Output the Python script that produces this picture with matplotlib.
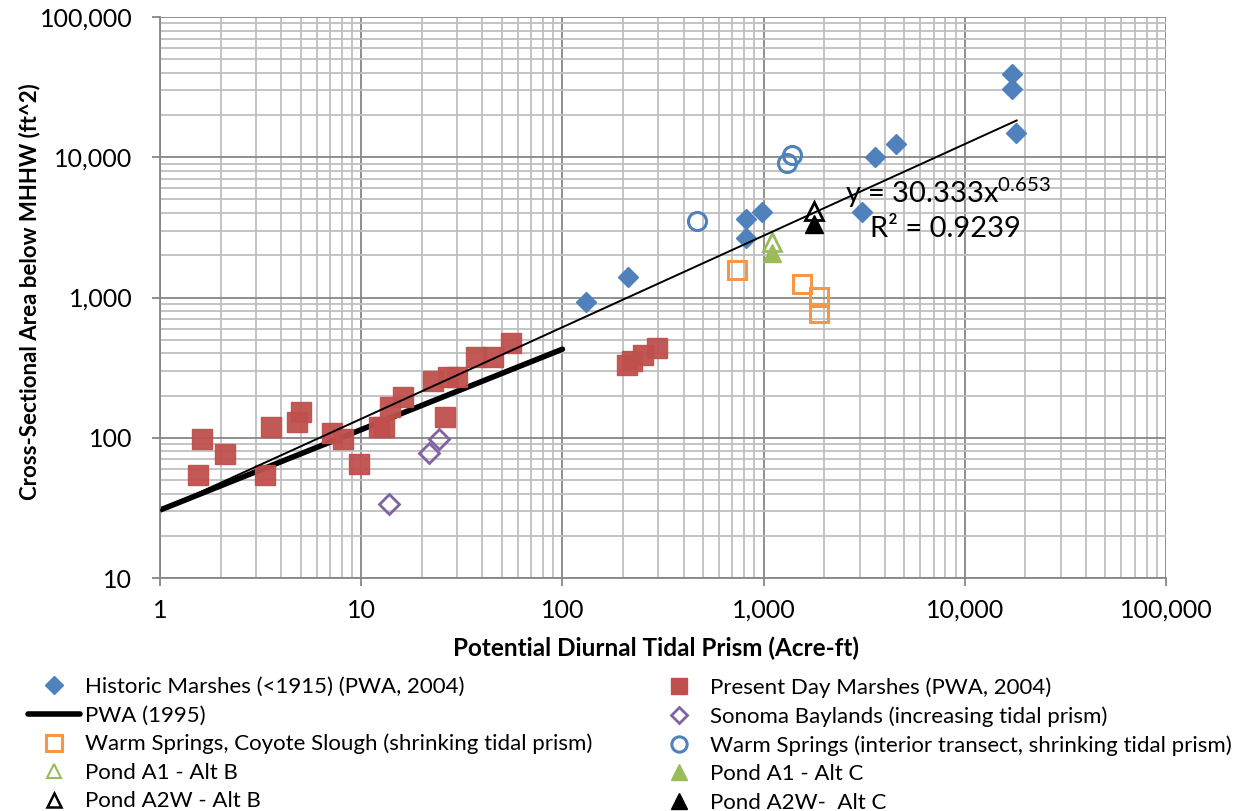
import matplotlib
matplotlib.use("Agg")
import matplotlib.pyplot as plt
import numpy as np
from matplotlib.ticker import LogLocator, FuncFormatter, NullFormatter
from matplotlib.lines import Line2D

# ---------------- data ----------------
historic_x = [131, 212, 813, 813, 979, 3096, 3578, 4567, 17170, 17170, 18030]
historic_y = [929, 1400, 3630, 2667, 4075, 4045, 10090, 12370, 39000, 30700, 14830]

present_x = [1.54, 1.62, 2.10, 3.32, 3.56, 4.78, 5.02, 7.13, 8.09, 9.79, 12.2, 13.0,
             13.9, 16.2, 22.8, 26.1, 27.1, 30.0, 37.1, 45.3, 55.3, 210, 222, 252, 294]
present_y = [54.2, 97.5, 76.2, 54.2, 118.6, 130, 152, 108, 97.5, 65, 120, 120,
             166, 196, 255, 141, 272, 272, 378, 375, 471, 330, 355, 392, 437]

pwa1995_x = [1, 100]
pwa1995_y = [30.5, 428]

sonoma_x = [13.8, 21.8, 24.4]
sonoma_y = [33.7, 77.4, 97.5]

ws_coyote_x = [740, 1546, 1892, 1892]
ws_coyote_y = [1570, 1248, 1014, 780]

ws_interior_x = [465, 1303, 1389]
ws_interior_y = [3533, 9060, 10380]

a1_altb_x, a1_altb_y = [1097], [2500]
a1_altc_x, a1_altc_y = [1097], [2066]
a2w_altb_x, a2w_altb_y = [1780], [4160]
a2w_altc_x, a2w_altc_y = [1780], [3343]

trend_coef = 30.333
trend_exp = 0.653
trend_r2 = 0.9239
trend_range = [1, 18100]

x_ticks = [1, 10, 100, 1000, 10000, 100000]
y_ticks = [10, 100, 1000, 10000, 100000]

xlabel = "Potential Diurnal Tidal Prism (Acre-ft)"
ylabel = "Cross-Sectional Area below MHHW (ft^2)"

labels = ["Historic Marshes (<1915) (PWA, 2004)",
          "Present Day Marshes (PWA, 2004)",
          "PWA (1995)",
          "Sonoma Baylands (increasing tidal prism)",
          "Warm Springs, Coyote Slough (shrinking tidal prism)",
          "Warm Springs (interior transect, shrinking tidal prism)",
          "Pond A1 - Alt B",
          "Pond A1 - Alt C",
          "Pond A2W - Alt B",
          "Pond A2W-  Alt C"]

# ---------------- style ----------------
plt.rcParams['font.family'] = ['Lato', 'DejaVu Sans']
plt.rcParams['mathtext.fontset'] = 'custom'
plt.rcParams['mathtext.rm'] = 'Lato'
plt.rcParams['mathtext.it'] = 'Lato'
plt.rcParams['mathtext.default'] = 'regular'

BLUE = '#4F81BD'
RED = '#C0504D'
PURPLE = '#8064A2'
ORANGE = '#F79646'
GREEN = '#9BBB59'

W, H = 1242, 811
fig = plt.figure(figsize=(W / 100, H / 100), dpi=100)
L, R, T, B = 160, 1166, 17, 578
ax = fig.add_axes([L / W, 1 - B / H, (R - L) / W, (B - T) / H])
ax.set_xscale('log')
ax.set_yscale('log')
ax.set_xlim(1, 100000)
ax.set_ylim(10, 100000)

# grid
ax.xaxis.set_minor_locator(LogLocator(base=10, subs=np.arange(2, 10)))
ax.yaxis.set_minor_locator(LogLocator(base=10, subs=np.arange(2, 10)))
ax.xaxis.set_minor_formatter(NullFormatter())
ax.yaxis.set_minor_formatter(NullFormatter())
ax.grid(which='minor', color='#bfbfbf', lw=1.3, zorder=0)
ax.grid(which='major', color='#878787', lw=1.3, zorder=0)
ax.set_axisbelow(True)

ax.set_xticks(x_ticks)
ax.set_yticks(y_ticks)
fmt = FuncFormatter(lambda v, p: f"{int(round(v)):,}")
ax.xaxis.set_major_formatter(fmt)
ax.yaxis.set_major_formatter(fmt)
ax.tick_params(which='major', direction='out', length=6, width=1.3, color='#878787',
               labelsize=18, labelcolor='black')
ax.tick_params(axis='y', which='major', pad=14)
ax.tick_params(axis='x', which='major', pad=9)
ax.tick_params(which='minor', length=0)
for s in ['top', 'right']:
    ax.spines[s].set_visible(False)
for s in ['left', 'bottom']:
    ax.spines[s].set_color('#878787')
    ax.spines[s].set_linewidth(1.3)

# ---------------- series ----------------
ax.plot(pwa1995_x, pwa1995_y, color='black', lw=4, solid_capstyle='round', zorder=2)

ax.plot(historic_x, historic_y, ls='none', marker='D', ms=10.5, mfc=BLUE, mec=BLUE, zorder=3)
ax.plot(present_x, present_y, ls='none', marker='s', ms=14, mfc=RED, mec=RED, alpha=0.95, zorder=3)
ax.plot(sonoma_x, sonoma_y, ls='none', marker='D', ms=10, mfc='none', mec=PURPLE, mew=2, zorder=3)
ax.plot(ws_coyote_x, ws_coyote_y, ls='none', marker='s', ms=13, mfc='none', mec=ORANGE, mew=2.2, zorder=3)
ax.plot(ws_interior_x, ws_interior_y, ls='none', marker='o', ms=13, mfc='none', mec=BLUE, mew=2.2, zorder=3)
ax.plot(a1_altb_x, a1_altb_y, ls='none', marker='^', ms=13, mfc='none', mec=GREEN, mew=2, zorder=3)
ax.plot(a1_altc_x, a1_altc_y, ls='none', marker='^', ms=13, mfc=GREEN, mec=GREEN, zorder=3)
ax.plot(a2w_altb_x, a2w_altb_y, ls='none', marker='^', ms=13, mfc='none', mec='black', mew=2, zorder=3)
ax.plot(a2w_altc_x, a2w_altc_y, ls='none', marker='^', ms=13, mfc='black', mec='black', zorder=3)

tx = np.logspace(np.log10(trend_range[0]), np.log10(trend_range[1]), 200)
ax.plot(tx, trend_coef * tx ** trend_exp, color='black', lw=1.4, zorder=4)

fig.text(845 / W, 1 - 193 / H, f"y = {trend_coef}x$^{{{trend_exp}}}$", fontsize=21,
         ha='left', va='center')
fig.text(870 / W, 1 - 229 / H, f"R² = {trend_r2}", fontsize=21, ha='left', va='center')

# axis labels
ax.set_xlabel(xlabel, fontsize=17.5, fontweight='bold')
ax.xaxis.set_label_coords((656 - L) / (R - L), 1 - (648 - T) / (B - T))
ax.set_ylabel(ylabel, fontsize=16, fontweight='bold')
ax.yaxis.set_label_coords((30 - L) / (R - L), 1 - (292 - T) / (B - T))
ax.xaxis.label.set_va('center')
ax.yaxis.label.set_va('center')

# ---------------- legend ----------------
h_hist = Line2D([], [], ls='none', marker='D', ms=9, mfc=BLUE, mec=BLUE)
h_pres = Line2D([], [], ls='none', marker='s', ms=11, mfc=RED, mec=RED)
h_pwa = Line2D([], [], color='black', lw=4, solid_capstyle='round')
h_son = Line2D([], [], ls='none', marker='D', ms=8, mfc='none', mec=PURPLE, mew=2)
h_wsc = Line2D([], [], ls='none', marker='s', ms=11, mfc='none', mec=ORANGE, mew=2.2)
h_wsi = Line2D([], [], ls='none', marker='o', ms=11, mfc='none', mec=BLUE, mew=2.2)
h_a1b = Line2D([], [], ls='none', marker='^', ms=10, mfc='none', mec=GREEN, mew=1.5)
h_a1c = Line2D([], [], ls='none', marker='^', ms=11, mfc=GREEN, mec=GREEN)
h_a2b = Line2D([], [], ls='none', marker='^', ms=10, mfc='none', mec='black', mew=1.8)
h_a2c = Line2D([], [], ls='none', marker='^', ms=11, mfc='black', mec='black')

common = dict(frameon=False, fontsize=16, handlelength=2.35, handletextpad=0.23,
              labelspacing=0.38, borderpad=0, borderaxespad=0, loc='upper left')
fig.legend([h_hist, h_pwa, h_wsc, h_a1b, h_a2b],
           [labels[0], labels[2], labels[4], labels[6], labels[8]],
           bbox_to_anchor=(28 / W, 1 - 677 / H), **common)
fig.legend([h_pres, h_son, h_wsi, h_a1c, h_a2c],
           [labels[1], labels[3], labels[5], labels[7], labels[9]],
           bbox_to_anchor=(653 / W, 1 - 677 / H), **common)

fig.savefig("out.png", dpi=100)
